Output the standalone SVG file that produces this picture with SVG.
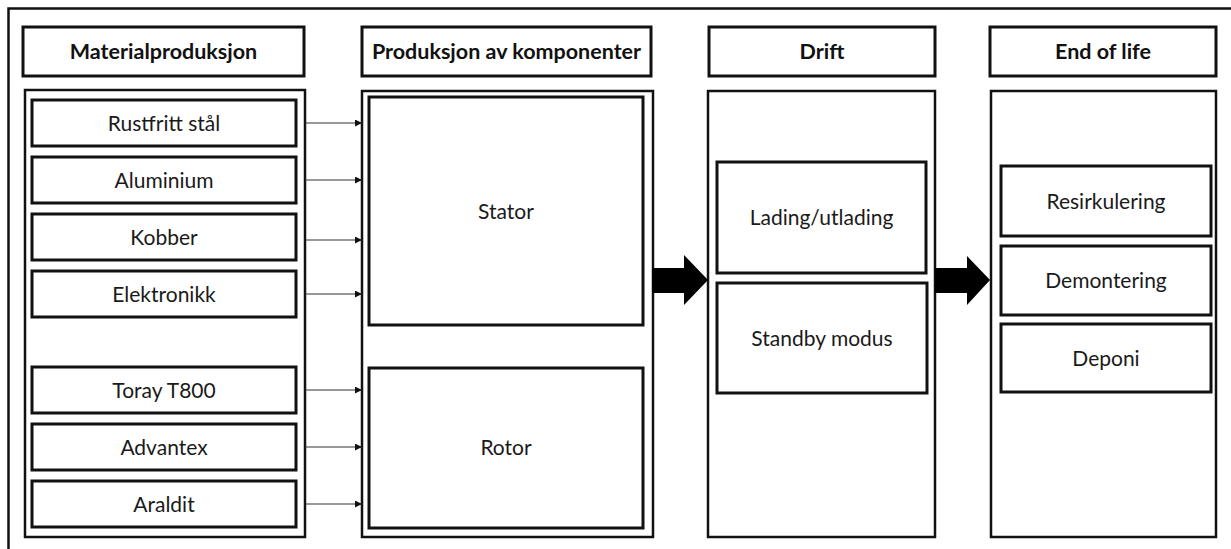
<svg xmlns="http://www.w3.org/2000/svg" width="1231" height="549" viewBox="0 0 1231 549">
  <defs>
    <style>
      .hdr { fill: #fff; stroke: #111; stroke-width: 3; }
      .cont { fill: #fff; stroke: #111; stroke-width: 2.5; }
      .item { fill: #fff; stroke: #111; stroke-width: 3; }
      .t { font-family: Lato, "Liberation Sans", sans-serif; font-size: 21px; fill: #1a1a1a; text-anchor: middle; }
      .tb { font-family: Lato, "Liberation Sans", sans-serif; font-size: 21.5px; font-weight: bold; fill: #111; text-anchor: middle; }
      .conn { stroke: #333; stroke-width: 1.2; fill: none; marker-end: url(#ah); }
      .big { fill: #000; }
    </style>
    <marker id="ah" viewBox="0 0 10 10" refX="10" refY="5" markerWidth="7" markerHeight="7" markerUnits="userSpaceOnUse" orient="auto">
      <path d="M0,0 L10,5 L0,10 z" fill="#111"/>
    </marker>
  </defs>
  <rect width="1231" height="549" fill="#fff"/>
  <path d="M8.5,549 V8.5 H1231" fill="none" stroke="#111" stroke-width="2.5"/>

  <g id="col-material">
    <g id="hdr-material"><rect class="hdr" x="23" y="27" width="281" height="49"/><text class="tb" x="163.5" y="59">Materialproduksjon</text></g>
    <rect class="cont" x="25" y="90" width="280" height="447"/>
    <g id="rustfritt"><rect class="item" x="32" y="100" width="264" height="46"/><text class="t" x="164" y="130.5">Rustfritt stål</text></g>
    <g id="aluminium"><rect class="item" x="32" y="157" width="264" height="46"/><text class="t" x="164" y="187.5">Aluminium</text></g>
    <g id="kobber"><rect class="item" x="32" y="214" width="264" height="46"/><text class="t" x="164" y="244.5">Kobber</text></g>
    <g id="elektronikk"><rect class="item" x="32" y="271" width="264" height="46"/><text class="t" x="164" y="301.5">Elektronikk</text></g>
    <g id="toray"><rect class="item" x="32" y="367" width="264" height="46"/><text class="t" x="164" y="397.5">Toray T800</text></g>
    <g id="advantex"><rect class="item" x="32" y="424" width="264" height="46"/><text class="t" x="164" y="454.5">Advantex</text></g>
    <g id="araldit"><rect class="item" x="32" y="481" width="264" height="46"/><text class="t" x="164" y="511.5">Araldit</text></g>
  </g>

  <g id="col-komponenter">
    <g id="hdr-komponenter"><rect class="hdr" x="362" y="27" width="289" height="49"/><text class="tb" x="506.5" y="59">Produksjon av komponenter</text></g>
    <rect class="cont" x="362" y="91" width="291" height="446"/>
    <g id="stator"><rect class="item" x="369" y="97" width="274" height="228"/><text class="t" x="506" y="218.5">Stator</text></g>
    <g id="rotor"><rect class="item" x="369" y="368" width="274" height="160"/><text class="t" x="506" y="455">Rotor</text></g>
  </g>

  <g id="col-drift">
    <g id="hdr-drift"><rect class="hdr" x="709" y="27" width="226" height="49"/><text class="tb" x="822" y="59">Drift</text></g>
    <rect class="cont" x="708" y="91" width="227" height="446"/>
    <g id="lading"><rect class="item" x="717" y="162" width="209" height="111"/><text class="t" x="821.5" y="225">Lading/utlading</text></g>
    <g id="standby"><rect class="item" x="717" y="283" width="210" height="110"/><text class="t" x="822" y="345.5">Standby modus</text></g>
  </g>

  <g id="col-eol">
    <g id="hdr-eol"><rect class="hdr" x="990" y="27" width="226" height="49"/><text class="tb" x="1103" y="59">End of life</text></g>
    <rect class="cont" x="991" y="91" width="225" height="446"/>
    <g id="resirkulering"><rect class="item" x="1001" y="166" width="210" height="70"/><text class="t" x="1106" y="208.5">Resirkulering</text></g>
    <g id="demontering"><rect class="item" x="1001" y="246" width="210" height="69"/><text class="t" x="1106" y="288">Demontering</text></g>
    <g id="deponi"><rect class="item" x="1001" y="324" width="210" height="68"/><text class="t" x="1106" y="365.5">Deponi</text></g>
  </g>

  <g id="connectors">
    <line class="conn" x1="305" y1="123" x2="362" y2="123"/>
    <line class="conn" x1="305" y1="180" x2="362" y2="180"/>
    <line class="conn" x1="305" y1="240" x2="362" y2="240"/>
    <line class="conn" x1="305" y1="294" x2="362" y2="294"/>
    <line class="conn" x1="305" y1="390" x2="362" y2="390"/>
    <line class="conn" x1="305" y1="447" x2="362" y2="447"/>
    <line class="conn" x1="305" y1="504" x2="362" y2="504"/>
    <polygon class="big" points="652,268 684,268 684,255 708,280 684,305 684,293 652,293"/>
    <polygon class="big" points="935,268 967,268 967,256 990,280 967,305 967,293 935,293"/>
  </g>
</svg>
